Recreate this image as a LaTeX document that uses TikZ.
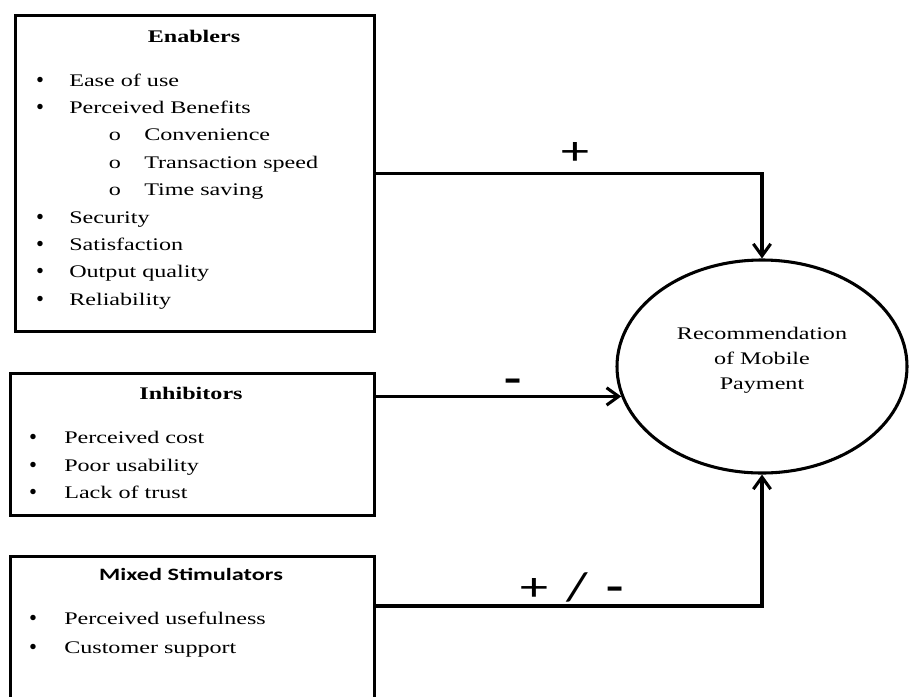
\documentclass[tikz,border=0pt]{standalone}
\usepackage{fontspec}
\setmainfont[FakeStretch=1.36]{Liberation Serif}
\newfontfamily\calfont[FakeStretch=1.4]{Carlito}
\newfontfamily\dotfont{Liberation Serif}
\usetikzlibrary{positioning, arrows.meta, shapes.geometric}

\begin{document}
\begin{tikzpicture}[
    x=0.75pt, y=-0.75pt,
    arrow/.style={-{Straight Barb[length=9pt, width=13pt]}, line width=2.3pt},
    box/.style={draw, line width=2.3pt, anchor=north west, inner sep=0pt},
    item/.style={anchor=base west, inner sep=0pt, font=\fontsize{13.3}{16}\selectfont},
    dot/.style={anchor=base, inner sep=0pt, font=\fontsize{17}{17}\selectfont\dotfont},
    title/.style={anchor=base, inner sep=0pt, font=\fontsize{13.3}{16}\selectfont\bfseries},
    sign/.style={font=\fontsize{30}{30}\selectfont\calfont, inner sep=1pt}
]
    \clip (0,0) rectangle (909,696);

    % Boxes
    \node[box, minimum width=269.25pt, minimum height=237pt] (enab) at (14,14) {};
    \node[box, minimum width=273pt, minimum height=106.5pt] (inh) at (9,372) {};
    \node[box, minimum width=273pt, minimum height=135pt] (mix) at (9,555) {};

    % Enablers
    \node[title] (entitle) at (194,42) {Enablers};
    \foreach \yy/\txt [count=\i] in {86/Ease of use, 113.4/Perceived Benefits,
        223/Security, 250.4/Satisfaction, 277.8/Output quality, 305.2/Reliability}
    {
        \node[dot] (enb\i) at (40,\yy+1) {•};
        \node[item] (en\i) at (69,\yy) {\txt};
    }
    \foreach \yy/\txt [count=\i] in {140.8/Convenience, 168.2/Transaction speed, 195.6/Time saving}
    {
        \node[item, anchor=base] (subb\i) at (115,\yy) {o};
        \node[item] (sub\i) at (144,\yy) {\txt};
    }

    % Inhibitors
    \node[title] (inhtitle) at (191,399) {Inhibitors};
    \foreach \yy/\txt [count=\i] in {443/Perceived cost, 471/Poor usability, 498/Lack of trust}
    {
        \node[dot] (inb\i) at (33,\yy+1) {•};
        \node[item] (in\i) at (64,\yy) {\txt};
    }

    % Mixed stimulators
    \node[title, font=\fontsize{13}{15}\selectfont\calfont\bfseries] (mixtitle) at (191,580) {Mixed Stimulators};
    \foreach \yy/\txt [count=\i] in {624/Perceived usefulness, 653/Customer support}
    {
        \node[dot] (mib\i) at (33,\yy+1) {•};
        \node[item] (mi\i) at (64,\yy) {\txt};
    }

    % Outcome
    \node[ellipse, draw, line width=2.3pt, minimum width=217.5pt, minimum height=159.75pt] (circ) at (762,366.5) {};
    \node[align=center, font=\fontsize{13.3}{18.75}\selectfont] (circtext) at ([yshift=5pt]circ.center)
        {Recommendation\\of Mobile\\Payment};

    % Connectors
    \draw[arrow] (enab.east) -| node[sign, pos=0.258, above=5pt] {+} (circ.north);
    \draw[arrow] (inh.east |- circ.192) -- node[sign, pos=0.56, above=1pt] {\bfseries -} (circ.192);
    \draw[arrow] ([yshift=-38.25pt]mix.north east) -| node[sign, pos=0.254, above=1pt]
        {+\hspace{0.45em}/\hspace{0.45em}\bfseries -} (circ.south);
\end{tikzpicture}
\end{document}
